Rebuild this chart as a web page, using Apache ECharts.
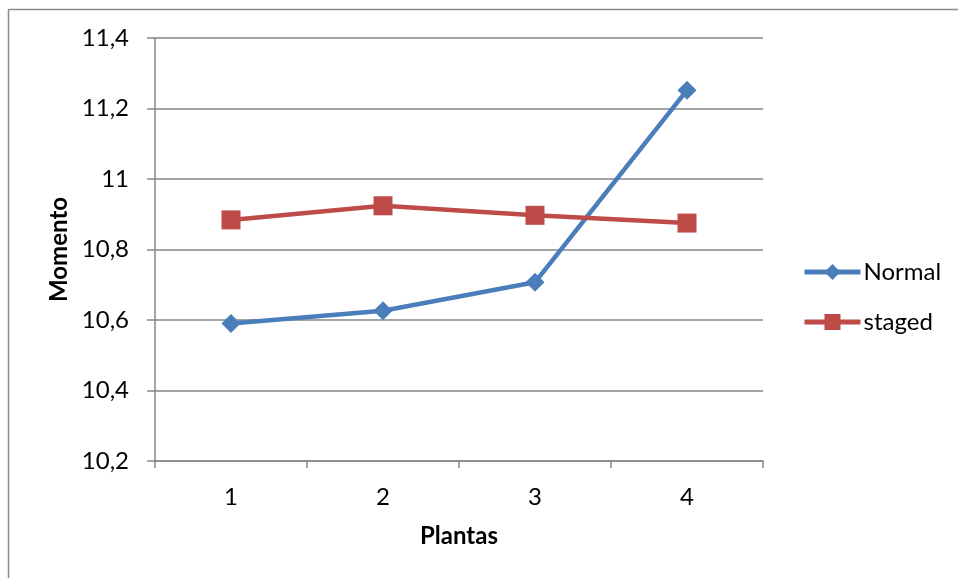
<!DOCTYPE html>
<html><head><meta charset="utf-8">
<script src="https://cdn.jsdelivr.net/npm/echarts@6/dist/echarts.min.js"></script>
<style>html,body{margin:0;padding:0;background:#fff}#c{width:958px;height:578px}</style>
</head><body><div id="c"></div>
<script>
const categories = ['1', '2', '3', '4'];
const normalValues = [10.59, 10.626, 10.707, 11.252];
const stagedValues = [10.884, 10.924, 10.897, 10.875];
const seriesNames = ['Normal', 'staged'];
const yTicks = {min: 10.2, max: 11.4, interval: 0.2};

const FONT = 'Lato';
const FS = 24;
const chart = echarts.init(document.getElementById('c'), null, {renderer: 'canvas'});
const axisColor = '#868686';
chart.setOption({
  animation: false,
  backgroundColor: '#fff',
  textStyle: {fontFamily: FONT},
  graphic: [
    {type: 'line', shape: {x1: 8.5, y1: 9.5, x2: 958, y2: 9.5}, style: {stroke: '#8a8a8a', lineWidth: 1.5}},
    {type: 'line', shape: {x1: 8.5, y1: 9.5, x2: 8.5, y2: 578}, style: {stroke: '#8a8a8a', lineWidth: 1.5}}
  ],
  grid: {left: 155, right: 195, top: 38, bottom: 117, containLabel: false},
  legend: {
    orient: 'vertical', left: 797, top: 255, itemWidth: 56, itemHeight: 20, itemGap: 26,
    lineStyle: {width: 5},
    textStyle: {fontFamily: FONT, fontSize: FS, color: '#000', padding: [0, 0, 0, -2]},
    data: seriesNames
  },
  xAxis: {
    type: 'category', data: categories, boundaryGap: true,
    name: 'Plantas', nameLocation: 'middle', nameGap: 63,
    nameTextStyle: {fontFamily: FONT, fontSize: FS, fontWeight: 'bold', color: '#000'},
    axisLine: {lineStyle: {color: axisColor, width: 1.5}},
    axisTick: {show: true, alignWithLabel: false, length: 7, lineStyle: {color: axisColor, width: 1.5}},
    axisLabel: {fontFamily: FONT, fontSize: FS, color: '#000', margin: 24},
    splitLine: {show: false}
  },
  yAxis: {
    type: 'value', min: yTicks.min, max: yTicks.max, interval: yTicks.interval,
    name: 'Momento', nameLocation: 'middle', nameGap: 83,
    nameTextStyle: {fontFamily: FONT, fontSize: FS, fontWeight: 'bold', color: '#000'},
    axisLine: {show: true, lineStyle: {color: axisColor, width: 1.5}},
    axisTick: {show: true, length: 8, lineStyle: {color: axisColor, width: 1.5}},
    axisLabel: {fontFamily: FONT, fontSize: FS, color: '#000', margin: 26,
      formatter: v => String(Math.round(v * 10) / 10).replace('.', ',')},
    splitLine: {show: true, lineStyle: {color: axisColor, width: 1.5}}
  },
  series: [
    {name: seriesNames[0], type: 'line', data: normalValues, symbol: 'diamond', symbolSize: 19,
      lineStyle: {color: '#4a7ebb', width: 4.5}, itemStyle: {color: '#4a7ebb'}},
    {name: seriesNames[1], type: 'line', data: stagedValues, symbol: 'rect', symbolSize: 19,
      lineStyle: {color: '#be4b48', width: 4.5}, itemStyle: {color: '#be4b48'}}
  ]
});
</script></body></html>
